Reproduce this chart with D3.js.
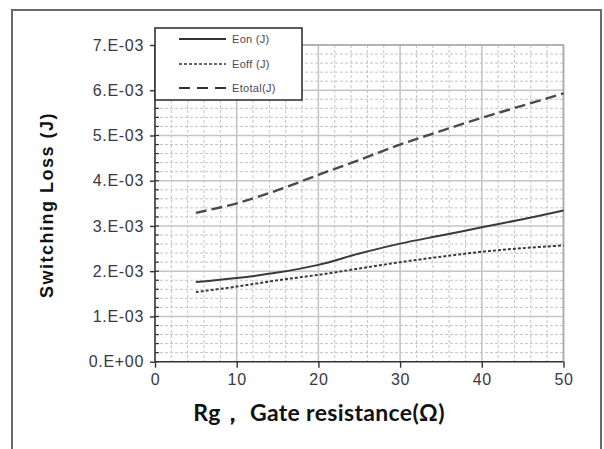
<!DOCTYPE html>
<html><head><meta charset="utf-8">
<script src="https://cdn.jsdelivr.net/npm/d3@7"></script>
<style>
html,body{margin:0;padding:0;background:#fff;}
svg{display:block;}
</style></head>
<body>
<svg id="chart" width="604" height="449"></svg>
<script>
// ---- data ----
const rg = [5, 10, 15, 20, 25, 30, 35, 40, 45, 50];
const eon = [1.76e-3, 1.85e-3, 1.97e-3, 2.14e-3, 2.39e-3, 2.61e-3, 2.79e-3, 2.97e-3, 3.15e-3, 3.34e-3];
const eoff = [1.54e-3, 1.66e-3, 1.80e-3, 1.92e-3, 2.06e-3, 2.20e-3, 2.32e-3, 2.43e-3, 2.51e-3, 2.57e-3];
const etotal = [3.29e-3, 3.50e-3, 3.79e-3, 4.13e-3, 4.46e-3, 4.80e-3, 5.10e-3, 5.39e-3, 5.66e-3, 5.93e-3];
const seriesNames = ["Eon (J)", "Eoff (J)", "Etotal(J)"];
const xTicks = [0, 10, 20, 30, 40, 50];
const yTicks = [0, 1e-3, 2e-3, 3e-3, 4e-3, 5e-3, 6e-3, 7e-3];
const yTickLabels = ["0.E+00", "1.E-03", "2.E-03", "3.E-03", "4.E-03", "5.E-03", "6.E-03", "7.E-03"];
const xTitle = "Rg，  Gate resistance(Ω)";
const yTitle = "Switching Loss (J)";

const svg = d3.select("#chart");
const L = 155, R = 563.5, T = 45, B = 361.7;
const x = d3.scaleLinear().domain([0, 50]).range([L, R]);
const y = d3.scaleLinear().domain([0, 7e-3]).range([B, T]);

svg.append("rect").attr("width", 604).attr("height", 449).attr("fill", "#fff");
// outer frame
svg.append("path").attr("d", "M12,460 V10 H601 V460")
  .attr("fill", "none").attr("stroke", "#6a6a6a").attr("stroke-width", 2);

const grid = svg.append("g");
// minor grid
const xMinor = d3.range(0, 51, 2).filter(v => v % 10 !== 0);
const yMinor = d3.range(0, 36).map(i => i * 0.2e-3).filter((v, i) => i % 5 !== 0);
grid.selectAll(".vx").data(xMinor).join("line")
  .attr("x1", d => x(d)).attr("x2", d => x(d)).attr("y1", T).attr("y2", B)
  .attr("stroke", "#c4c4c4").attr("stroke-width", 1).attr("stroke-dasharray", "3,2");
grid.selectAll(".hy").data(yMinor).join("line")
  .attr("y1", d => y(d)).attr("y2", d => y(d)).attr("x1", L).attr("x2", R)
  .attr("stroke", "#c4c4c4").attr("stroke-width", 1).attr("stroke-dasharray", "3,2");
// major grid
grid.selectAll(".vX").data(xTicks.slice(1)).join("line")
  .attr("x1", d => x(d)).attr("x2", d => x(d)).attr("y1", T).attr("y2", B)
  .attr("stroke", "#c6c6c6").attr("stroke-width", 1.6);
grid.selectAll(".hY").data(yTicks.slice(1)).join("line")
  .attr("y1", d => y(d)).attr("y2", d => y(d)).attr("x1", L).attr("x2", R)
  .attr("stroke", "#c6c6c6").attr("stroke-width", 1.6);
// plot border top/right
svg.append("path").attr("d", `M${L},${T} H${R} V${B}`).attr("fill", "none")
  .attr("stroke", "#a8a8a8").attr("stroke-width", 1.5);

// axes
const yAxis = d3.axisLeft(y).tickValues(yTicks).tickFormat((d, i) => yTickLabels[i]).tickSize(5).tickPadding(6);
const gy = svg.append("g").attr("transform", `translate(${L},0)`).call(yAxis);
const xAxis = d3.axisBottom(x).tickValues(xTicks).tickSize(6).tickPadding(6);
const gx = svg.append("g").attr("transform", `translate(0,${B})`).call(xAxis);
[gy, gx].forEach(g => {
  g.select(".domain").attr("stroke", "#333").attr("stroke-width", 1.6);
  g.selectAll(".tick line").attr("stroke", "#333").attr("stroke-width", 1.4);
  g.selectAll("text").attr("fill", "#383844").attr("font-family", "'Liberation Sans', Arial, sans-serif")
    .attr("font-size", 16).style("letter-spacing", "0.7px");
});
gx.select(".domain").attr("d", `M${L},0H${R}`);
gy.select(".domain").attr("d", `M0,${B}V${T}`);
// minor ticks on y (inside)
const yMinorTicks = d3.range(0, 36).map(i => i * 0.2e-3);
svg.append("g").selectAll("line").data(yMinorTicks).join("line")
  .attr("x1", L).attr("x2", L + 4).attr("y1", d => y(d)).attr("y2", d => y(d))
  .attr("stroke", "#333").attr("stroke-width", 1.2);

// lines
const line = d3.line().x(d => x(d[0])).y(d => y(d[1])).curve(d3.curveCatmullRom.alpha(0.5));
const styles = [
  {data: eon, dash: null, w: 2, c: "#3a3a3a"},
  {data: eoff, dash: "3,2", w: 2, c: "#3a3a3a"},
  {data: etotal, dash: "11,5", w: 2.4, c: "#4a4a4a"}
];
styles.forEach(s => {
  svg.append("path").attr("d", line(rg.map((r, i) => [r, s.data[i]])))
    .attr("fill", "none").attr("stroke", s.c).attr("stroke-width", s.w)
    .attr("stroke-dasharray", s.dash);
});

// legend
const lg = svg.append("g");
lg.append("rect").attr("x", 155).attr("y", 28).attr("width", 147).attr("height", 72)
  .attr("fill", "#fff").attr("stroke", "#333").attr("stroke-width", 1.6);
const legDash = [null, "3,2", "11,7"];
const legY = [39, 64, 88];
seriesNames.forEach((n, i) => {
  lg.append("line").attr("x1", 179).attr("x2", 226).attr("y1", legY[i]).attr("y2", legY[i])
    .attr("stroke", "#333").attr("stroke-width", i === 1 ? 1.4 : 1.8).attr("stroke-dasharray", legDash[i]);
  lg.append("text").attr("x", 232).attr("y", legY[i]).attr("dy", "0.35em").text(n)
    .attr("font-family", "'Liberation Sans Narrow', 'Liberation Sans', Arial, sans-serif")
    .attr("font-size", 11).attr("fill", "#4a4a55").style("letter-spacing", "0.3px");
});

// titles
const xt = svg.append("text").attr("x", 319).attr("y", 421).attr("text-anchor", "middle")
  .attr("font-family", "Lato, 'Open Sans', sans-serif").attr("font-weight", "bold")
  .attr("font-size", 20).attr("fill", "#111").text(xTitle);
const yt = svg.append("text").attr("transform", "translate(53,205) rotate(-90)").attr("text-anchor", "middle")
  .attr("font-family", "'Liberation Sans', Arial, sans-serif").attr("font-weight", "bold")
  .attr("font-size", 18).attr("fill", "#111").text(yTitle);
// fit x title width to the reference length by font size
(function () {
  const w = xt.node().getComputedTextLength();
  xt.attr("font-size", Math.min(23, 20 * 252 / w).toFixed(2));
  const w2 = xt.node().getComputedTextLength();
  xt.style("letter-spacing", ((252 - w2) / xTitle.length).toFixed(2) + "px");
})();
(function () {
  const w = yt.node().getComputedTextLength();
  yt.style("letter-spacing", ((186 - w) / yTitle.length).toFixed(2) + "px");
})();
</script>
</body></html>
